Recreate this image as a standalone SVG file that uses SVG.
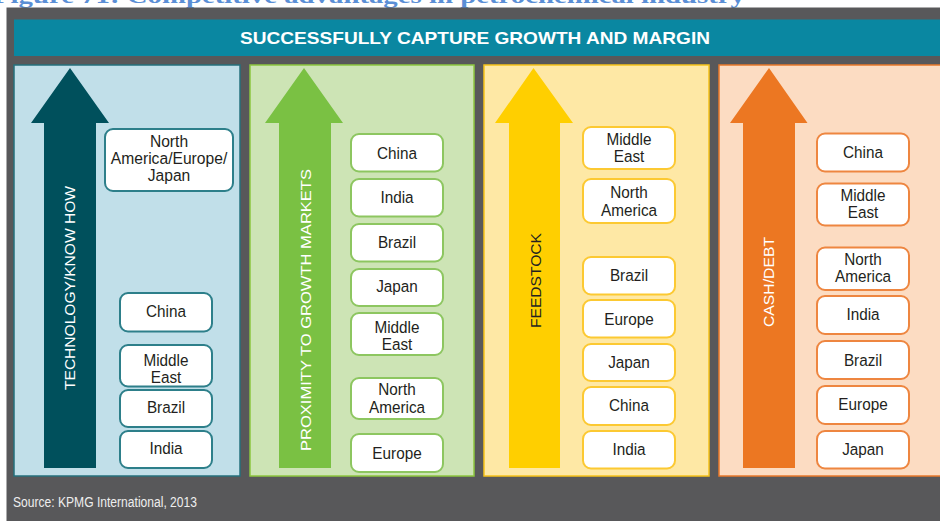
<svg xmlns="http://www.w3.org/2000/svg" width="940" height="521" viewBox="0 0 940 521">
<style>
.t{font-family:"Liberation Sans",Arial,sans-serif;font-size:17px;fill:#231f20;text-anchor:middle}
.lab{font-family:"Liberation Sans",Arial,sans-serif;font-size:15.5px;text-anchor:middle}
.b1{fill:#fff;stroke:#2d7f8a;stroke-width:2}
.b2{fill:#fff;stroke:#8dc660;stroke-width:2}
.b3{fill:#fff;stroke:#fcc932;stroke-width:2}
.b4{fill:#fff;stroke:#ee8640;stroke-width:2}
</style>
<rect x="0" y="0" width="940" height="521" fill="#fff"/>
<text x="-7" y="3" font-family="Liberation Serif,Cambria,serif" font-weight="bold" font-size="22" fill="#5b8fd6" textLength="752" lengthAdjust="spacingAndGlyphs">Figure 71: Competitive advantages in petrochemical industry</text>
<rect x="6.5" y="7.5" width="940" height="520" fill="#58585a"/>
<g id="banner">
<rect x="14" y="19.5" width="930" height="36.5" fill="#0a87a1"/>
<text x="475" y="44" font-family="Liberation Sans,Arial,sans-serif" font-weight="bold" font-size="17" fill="#fff" text-anchor="middle" textLength="470" lengthAdjust="spacingAndGlyphs">SUCCESSFULLY CAPTURE GROWTH AND MARGIN</text>
</g>
<g id="panels">
<rect x="14" y="65" width="226" height="411" fill="#c1dfe9" stroke="#24707c" stroke-width="1.5"/>
<rect x="250" y="65" width="224" height="411" fill="#cde4b5" stroke="#8cc63f" stroke-width="1.5"/>
<rect x="484" y="65" width="225" height="411" fill="#fee8a5" stroke="#f6c21a" stroke-width="1.5"/>
<rect x="719" y="65" width="230" height="411" fill="#fcdcc2" stroke="#e8782a" stroke-width="1.5"/>
</g>
<g id="connectors">
<polygon id="arrow1" points="70,68 109,123 96,123 96,468 44,468 44,123 31,123" fill="#00505c"/>
<polygon id="arrow2" points="304,68 343,123 331,123 331,468 279,468 279,123 265,123" fill="#7ac143"/>
<polygon id="arrow3" points="533.5,68 573,123 560,123 560,468 509,468 509,123 495,123" fill="#ffcf00"/>
<polygon id="arrow4" points="769,68 807.5,123 795,123 795,468 743,468 743,123 730,123" fill="#ec7722"/>
<text class="lab" fill="#fff" transform="translate(69.5 288) rotate(-90)" y="5.5" textLength="204" lengthAdjust="spacingAndGlyphs">TECHNOLOGY/KNOW HOW</text>
<text class="lab" fill="#fff" transform="translate(305 310) rotate(-90)" y="5.5" textLength="282" lengthAdjust="spacingAndGlyphs">PROXIMITY TO GROWTH MARKETS</text>
<text class="lab" fill="#231f20" transform="translate(535 280.5) rotate(-90)" y="5.5" textLength="95" lengthAdjust="spacingAndGlyphs">FEEDSTOCK</text>
<text class="lab" fill="#fff" transform="translate(768 282) rotate(-90)" y="5.5" textLength="90" lengthAdjust="spacingAndGlyphs">CASH/DEBT</text>
</g>
<g id="p1-naeuj"><rect class="b1" x="105" y="129" width="128" height="62" rx="8"/><text class="t" transform="matrix(.92 0 0 1 169 0)"><tspan x="0" y="147">North</tspan><tspan x="0" y="164">America/Europe/</tspan><tspan x="0" y="181">Japan</tspan></text></g>
<g id="p1-china"><rect class="b1" x="120" y="293" width="92" height="38.5" rx="8"/><text class="t" transform="matrix(.9 0 0 1 166 0)" x="0" y="317">China</text></g>
<g id="p1-me"><rect class="b1" x="120" y="345" width="92" height="41.5" rx="8"/><text class="t" transform="matrix(.9 0 0 1 166 0)"><tspan x="0" y="366">Middle</tspan><tspan x="0" y="383">East</tspan></text></g>
<g id="p1-brazil"><rect class="b1" x="120" y="390" width="92" height="37" rx="8"/><text class="t" transform="matrix(.9 0 0 1 166 0)" x="0" y="413">Brazil</text></g>
<g id="p1-india"><rect class="b1" x="120" y="431" width="92" height="37" rx="8"/><text class="t" transform="matrix(.9 0 0 1 166 0)" x="0" y="454">India</text></g>
<g id="p2-china"><rect class="b2" x="351" y="134" width="92" height="37.5" rx="8"/><text class="t" transform="matrix(.9 0 0 1 397 0)" x="0" y="159">China</text></g>
<g id="p2-india"><rect class="b2" x="351" y="179" width="92" height="37.5" rx="8"/><text class="t" transform="matrix(.9 0 0 1 397 0)" x="0" y="203">India</text></g>
<g id="p2-brazil"><rect class="b2" x="351" y="224" width="92" height="37.5" rx="8"/><text class="t" transform="matrix(.9 0 0 1 397 0)" x="0" y="248">Brazil</text></g>
<g id="p2-japan"><rect class="b2" x="351" y="269" width="92" height="37" rx="8"/><text class="t" transform="matrix(.9 0 0 1 397 0)" x="0" y="292">Japan</text></g>
<g id="p2-me"><rect class="b2" x="351" y="313" width="92" height="42" rx="8"/><text class="t" transform="matrix(.9 0 0 1 397 0)"><tspan x="0" y="333">Middle</tspan><tspan x="0" y="350">East</tspan></text></g>
<g id="p2-na"><rect class="b2" x="351" y="378" width="92" height="41" rx="8"/><text class="t" transform="matrix(.9 0 0 1 397 0)"><tspan x="0" y="395">North</tspan><tspan x="0" y="413">America</tspan></text></g>
<g id="p2-europe"><rect class="b2" x="351" y="434" width="92" height="38" rx="8"/><text class="t" transform="matrix(.9 0 0 1 397 0)" x="0" y="459">Europe</text></g>
<g id="p3-me"><rect class="b3" x="583" y="127" width="92" height="42" rx="8"/><text class="t" transform="matrix(.9 0 0 1 629 0)"><tspan x="0" y="145">Middle</tspan><tspan x="0" y="162.5">East</tspan></text></g>
<g id="p3-na"><rect class="b3" x="583" y="179" width="92" height="44" rx="8"/><text class="t" transform="matrix(.9 0 0 1 629 0)"><tspan x="0" y="198">North</tspan><tspan x="0" y="216">America</tspan></text></g>
<g id="p3-brazil"><rect class="b3" x="583" y="257" width="92" height="37.5" rx="8"/><text class="t" transform="matrix(.9 0 0 1 629 0)" x="0" y="281">Brazil</text></g>
<g id="p3-europe"><rect class="b3" x="583" y="300" width="92" height="37.5" rx="8"/><text class="t" transform="matrix(.9 0 0 1 629 0)" x="0" y="325">Europe</text></g>
<g id="p3-japan"><rect class="b3" x="583" y="344" width="92" height="37" rx="8"/><text class="t" transform="matrix(.9 0 0 1 629 0)" x="0" y="368">Japan</text></g>
<g id="p3-china"><rect class="b3" x="583" y="387" width="92" height="38" rx="8"/><text class="t" transform="matrix(.9 0 0 1 629 0)" x="0" y="411.5">China</text></g>
<g id="p3-india"><rect class="b3" x="583" y="431" width="92" height="37.5" rx="8"/><text class="t" transform="matrix(.9 0 0 1 629 0)" x="0" y="455">India</text></g>
<g id="p4-china"><rect class="b4" x="817" y="133.5" width="92" height="38" rx="8"/><text class="t" transform="matrix(.9 0 0 1 863 0)" x="0" y="158">China</text></g>
<g id="p4-me"><rect class="b4" x="817" y="183.5" width="92" height="42" rx="8"/><text class="t" transform="matrix(.9 0 0 1 863 0)"><tspan x="0" y="201.5">Middle</tspan><tspan x="0" y="218">East</tspan></text></g>
<g id="p4-na"><rect class="b4" x="817" y="247.5" width="92" height="42.5" rx="8"/><text class="t" transform="matrix(.9 0 0 1 863 0)"><tspan x="0" y="265">North</tspan><tspan x="0" y="282.5">America</tspan></text></g>
<g id="p4-india"><rect class="b4" x="817" y="296" width="92" height="38" rx="8"/><text class="t" transform="matrix(.9 0 0 1 863 0)" x="0" y="320.5">India</text></g>
<g id="p4-brazil"><rect class="b4" x="817" y="341" width="92" height="38" rx="8"/><text class="t" transform="matrix(.9 0 0 1 863 0)" x="0" y="366">Brazil</text></g>
<g id="p4-europe"><rect class="b4" x="817" y="386" width="92" height="38" rx="8"/><text class="t" transform="matrix(.9 0 0 1 863 0)" x="0" y="410">Europe</text></g>
<g id="p4-japan"><rect class="b4" x="817" y="431" width="92" height="37.5" rx="8"/><text class="t" transform="matrix(.9 0 0 1 863 0)" x="0" y="455">Japan</text></g>
<text x="13" y="507" font-family="Liberation Sans,Arial,sans-serif" font-size="14" fill="#eeeeee" textLength="184" lengthAdjust="spacingAndGlyphs">Source: KPMG International, 2013</text>
</svg>
